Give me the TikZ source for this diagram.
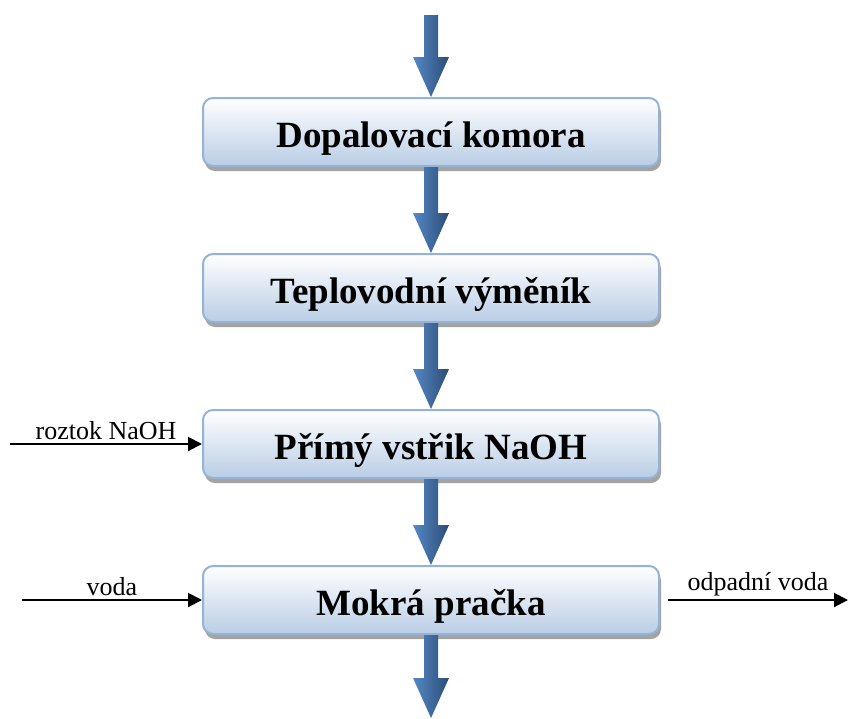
\documentclass[tikz,border=0pt]{standalone}
\usepackage{fontspec}
\setmainfont{Liberation Serif}
\usetikzlibrary{calc,shadows,arrows.meta}
\definecolor{boxtop}{HTML}{FFFFFF}
\definecolor{boxbottom}{HTML}{B9CDE5}
\definecolor{boxline}{HTML}{95B3D7}
\definecolor{flowlight}{HTML}{5488C6}
\definecolor{flowdark}{HTML}{2C4D75}
\newcommand{\flowarrow}[2]{%
  \path[flowfill] let \p1=(#1), \p2=(#2) in
    (\x1-7pt,\y1) -- (\x1+7pt,\y1) -- (\x1+7pt,\y2+40pt) -- (\x1+18pt,\y2+40pt)
    -- (\x2,\y2) -- (\x1-18pt,\y2+40pt) -- (\x1-7pt,\y2+40pt) -- cycle;}

\begin{document}
\begin{tikzpicture}[x=1pt, y=-1pt,
    stage/.style={rectangle, rounded corners=10pt, draw=boxline, line width=2pt,
      top color=boxtop, bottom color=boxbottom, minimum width=456pt, minimum height=68pt,
      text height=36pt, text depth=6pt, inner ysep=0pt,
      font=\fontsize{37}{40}\selectfont\bfseries,
      drop shadow={shadow xshift=2pt, shadow yshift=-5pt, fill=black!45, opacity=0.8}},
    flowfill/.style={left color=flowlight, right color=flowdark},
    feed/.style={-{Triangle[length=14pt,width=14pt]}, line width=2pt},
    feedlabel/.style={above, midway, inner sep=3pt, font=\fontsize{26}{28}\selectfont}]
    \useasboundingbox (0,0) rectangle (848,718);
    \node[stage] at (431,132) (komora) {Dopalovací komora};
    \node[stage] at (431,288) (vymenik) {Teplovodní výměník};
    \node[stage] at (431,444) (vstrik) {Přímý vstřik NaOH};
    \node[stage] at (431,600) (pracka) {Mokrá pračka};
    \coordinate (vstup) at (431,15);
    \coordinate (vystup) at (431,718);
    % hlavni proud plynu
    \flowarrow{vstup}{komora.north}
    \flowarrow{komora.south}{vymenik.north}
    \flowarrow{vymenik.south}{vstrik.north}
    \flowarrow{vstrik.south}{pracka.north}
    \flowarrow{pracka.south}{vystup}
    % vedlejsi proudy
    \coordinate (naoh) at (10,444);
    \coordinate (voda) at (22,600);
    \coordinate (odpad) at (848,600);
    \draw[feed] (naoh) -- (vstrik.west) node[feedlabel] {roztok NaOH};
    \draw[feed] (voda) -- (pracka.west) node[feedlabel] {voda};
    \draw[feed] ([xshift=8pt]pracka.east) -- (odpad) node[feedlabel] {odpadní voda};
\end{tikzpicture}
\end{document}
